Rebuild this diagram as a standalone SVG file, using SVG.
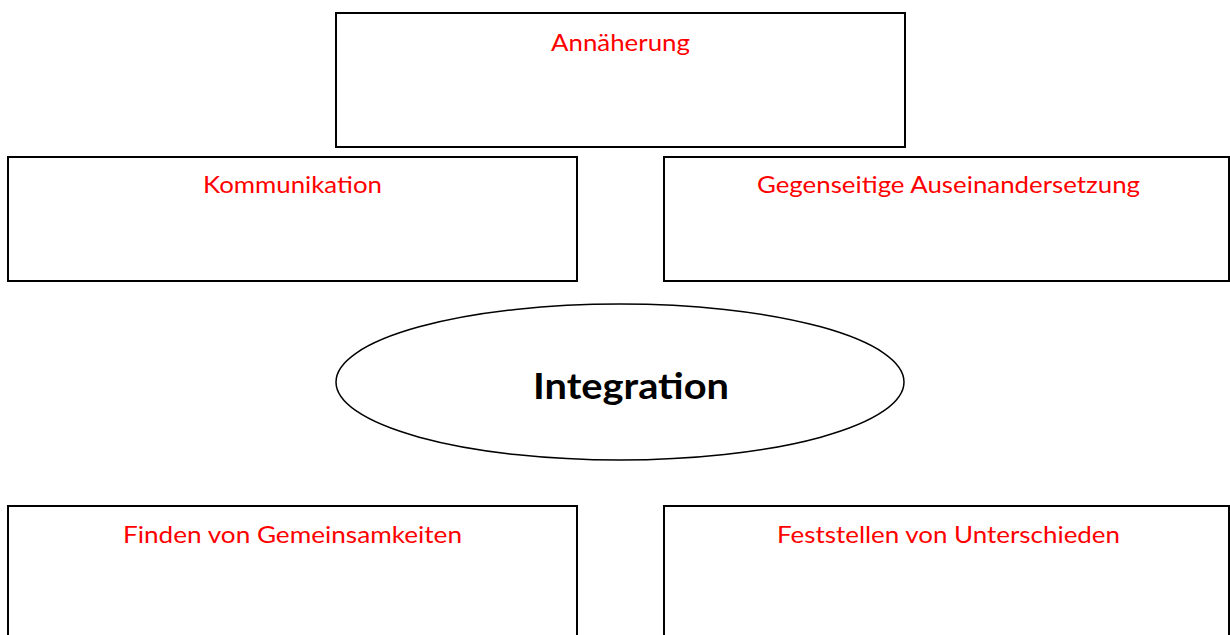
<svg xmlns="http://www.w3.org/2000/svg" width="1230" height="635" viewBox="0 0 1230 635">
<style>
.box{fill:#fff;stroke:#000;stroke-width:2}
.ell{fill:#fff;stroke:#000;stroke-width:1.5}
.lbl{font-family:Lato,"Open Sans","Liberation Sans",sans-serif;font-size:24px;fill:#ff0000;text-anchor:middle}
.main{font-family:Lato,"Open Sans","Liberation Sans",sans-serif;font-size:37px;font-weight:bold;fill:#000;text-anchor:middle}
</style>
<rect width="1230" height="635" fill="#fff"/>
<g id="connectors"></g>
<g id="annaeherung">
<rect class="box" x="336" y="13" width="569" height="134"/>
<text class="lbl" x="620.5" y="51" textLength="139" lengthAdjust="spacingAndGlyphs">Annäherung</text>
</g>
<g id="kommunikation">
<rect class="box" x="8" y="157" width="569" height="124"/>
<text class="lbl" x="292.5" y="193" textLength="179" lengthAdjust="spacingAndGlyphs">Kommunikation</text>
</g>
<g id="auseinandersetzung">
<rect class="box" x="664" y="157" width="565" height="124"/>
<text class="lbl" x="948.5" y="193" textLength="383" lengthAdjust="spacingAndGlyphs">Gegenseitige Auseinandersetzung</text>
</g>
<g id="integration">
<ellipse class="ell" cx="620" cy="382" rx="284" ry="78"/>
<text class="main" x="631" y="399" textLength="196" lengthAdjust="spacingAndGlyphs">Integration</text>
</g>
<g id="gemeinsamkeiten">
<rect class="box" x="8" y="506" width="569" height="140"/>
<text class="lbl" x="292.5" y="543" textLength="339" lengthAdjust="spacingAndGlyphs">Finden von Gemeinsamkeiten</text>
</g>
<g id="unterschiede">
<rect class="box" x="664" y="506" width="565" height="140"/>
<text class="lbl" x="948.5" y="543" textLength="343" lengthAdjust="spacingAndGlyphs">Feststellen von Unterschieden</text>
</g>
</svg>
